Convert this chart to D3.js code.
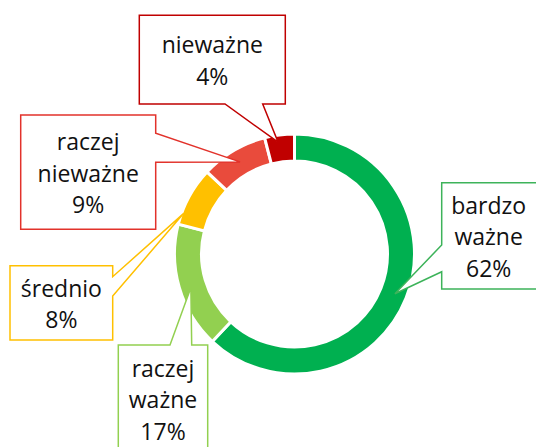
<!DOCTYPE html>
<html lang="en">
<head>
<meta charset="utf-8">
<title>Donut</title>
<script src="https://cdn.jsdelivr.net/npm/d3@7"></script>
<style>
  body { margin: 0; background: #fff; }
  text { font-family: "Open Sans", sans-serif; }
</style>
</head>
<body>
<script>
// data
var categories = ["bardzo ważne", "raczej ważne", "średnio", "raczej nieważne", "nieważne"];
var values = [62, 17, 8, 9, 4];
var labelLines = [["bardzo", "ważne"], ["raczej", "ważne"], ["średnio"], ["raczej", "nieważne"], ["nieważne"]];
var sliceColors = ["#00B050", "#92D050", "#FFC000", "#E94B3C", "#C00000"];
var boxColors = ["#3DB35A", "#92D050", "#FFC000", "#E2322B", "#C00000"];

var width = 536, height = 447;
var cx = 294.5, cy = 254;
var outerR = 120, innerR = 93;

// callout boxes (layout only): box, side with the pointer, pointer base, where the tip sits on the slice
var callouts = [
  {x: 441.7, y: 182.7, w: 96, h: 106.3, side: "left", a: 245, b: 271.7, frac: 0.5, r: 108},
  {x: 118.3, y: 345, w: 89.4, h: 107.6, side: "top", a: 170, b: 191.7, frac: 0.47, r: 109},
  {x: 10, y: 265.7, w: 102.7, h: 74.3, side: "right", a: 276.7, b: 296, frac: 0.2, r: 118},
  {x: 20.7, y: 115, w: 135, h: 114.3, side: "right", a: 133.3, b: 162.3, frac: 0.5, r: 107},
  {x: 139.3, y: 15.3, w: 146, h: 88.7, side: "bottom", a: 225, b: 262.7, frac: 0.42, r: 113}
];

var svg = d3.select("body").append("svg")
    .attr("width", width)
    .attr("height", height);

var pie = d3.pie().sort(null).value(function(d) { return d; });
var arcs = pie(values);

var arc = d3.arc().innerRadius(innerR).outerRadius(outerR);

var g = svg.append("g").attr("transform", "translate(" + cx + "," + cy + ")");

g.selectAll("path")
    .data(arcs)
    .enter()
    .append("path")
    .attr("d", arc)
    .attr("fill", function(d, i) { return sliceColors[i]; })
    .attr("stroke", "#fff")
    .attr("stroke-width", 3);

//build the callout outline with a wedge pointing to the tip
function calloutPath(c, tip) {
  var x0 = c.x, y0 = c.y, x1 = c.x + c.w, y1 = c.y + c.h;
  var pts = [];
  if (c.side == "top") {
    pts = [[x0, y0], [c.a, y0], tip, [c.b, y0], [x1, y0], [x1, y1], [x0, y1]];
  } else if (c.side == "right") {
    pts = [[x0, y0], [x1, y0], [x1, c.a], tip, [x1, c.b], [x1, y1], [x0, y1]];
  } else if (c.side == "bottom") {
    pts = [[x0, y0], [x1, y0], [x1, y1], [c.b, y1], tip, [c.a, y1], [x0, y1]];
  } else {
    pts = [[x0, y0], [x1, y0], [x1, y1], [x0, y1], [x0, c.b], tip, [x0, c.a]];
  }
  return "M" + pts.map(function(p) { return p[0] + "," + p[1]; }).join("L") + "Z";
}

var lineH = 31.7;

arcs.forEach(function(d, i) {
  var c = callouts[i];
  var ang = d.startAngle + c.frac * (d.endAngle - d.startAngle);
  var tip = [cx + c.r * Math.sin(ang), cy - c.r * Math.cos(ang)];

  svg.append("path")
      .attr("d", calloutPath(c, tip))
      .attr("fill", "#fff")
      .attr("stroke", boxColors[i])
      .attr("stroke-width", 1.5)
      .attr("stroke-linejoin", "miter");

  var lines = labelLines[i].concat([d3.format(".0f")(values[i]) + "%"]);
  var midX = c.x + c.w / 2;
  if (i == 0) midX = 488.7;
  var midY = c.y + c.h / 2;
  var t = svg.append("text")
      .attr("text-anchor", "middle")
      .attr("font-size", "23px")
      .attr("fill", "#111");
  lines.forEach(function(s, k) {
    t.append("tspan")
        .attr("x", midX)
        .attr("y", midY + (k - (lines.length - 1) / 2) * lineH + 9.5)
        .text(s);
  });
});
</script>
</body>
</html>
